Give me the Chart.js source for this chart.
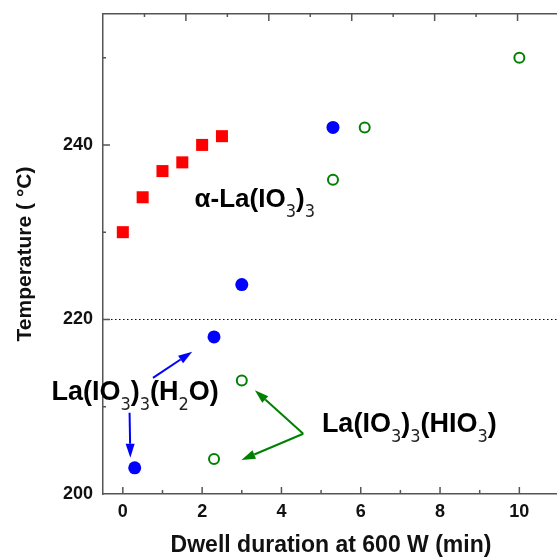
<!DOCTYPE html>
<html>
<head>
<meta charset="utf-8">
<script src="https://cdn.jsdelivr.net/npm/chart.js@4.4.0/dist/chart.umd.min.js"></script>
<style>
  html, body { margin: 0; padding: 0; background: #fff; overflow: hidden; }
  #wrap { width: 570px; height: 559px; }
</style>
</head>
<body>
<div id="wrap"><canvas id="chart" width="570" height="559"></canvas></div>
<script>
// alpha-La(IO3)3 (red squares)
const alphaX = [0, 0.5, 1, 1.5, 2, 2.5];
const alphaY = [230, 234, 237, 238, 240, 241];
// La(IO3)3(H2O) (blue dots)
const hydrateX = [0.3, 2.3, 3, 5.3];
const hydrateY = [203, 218, 224, 242];
// La(IO3)3(HIO3) (green open circles)
const hio3X = [2.3, 3, 5.3, 6.1, 10];
const hio3Y = [204, 213, 236, 242, 250];
// dotted reference line
const refLineX = [-0.5, 11];
const refLineY = [220, 220];

// tick values
const xTicks = [0, 1, 2, 3, 4, 5, 6, 7, 8, 9, 10];
const xTopTicks = [1, 2, 3, 4, 5, 6, 7, 8, 9, 10];
const yTicks = [200, 210, 220, 230, 240, 250];

// labels drawn on the chart, in data coordinates (left x, baseline y)
const noteParts = [
  [['α-La(IO', 0], ['3', 1], [')', 0], ['3', 1]],
  [['La(IO', 0], ['3', 1], [')', 0], ['3', 1], ['(H', 0], ['2', 1], ['O)', 0]],
  [['La(IO', 0], ['3', 1], [')', 0], ['3', 1], ['(HIO', 0], ['3', 1], [')', 0]]
];
const noteX = [1.81, -1.8, 5.02];
const noteY = [232.9, 210.8, 207.1];

// arrows (from -> to), data coordinates
const arrowFrom = [[0.76, 213.3], [0.17, 209.3], [4.55, 206.9], [4.55, 206.9]];
const arrowTo = [[1.75, 216.3], [0.19, 204.15], [3.33, 211.9], [2.99, 203.9]];
const arrowKind = ['blue', 'blue', 'green', 'green'];

const toPts = (xs, ys) => xs.map((x, i) => ({x: x, y: ys[i]}));

const AXIS = '#555555';

// tick marks pointing into the plot
const innerTicks = {
  id: 'innerTicks',
  afterDraw(chart) {
    const {ctx, chartArea: a, scales: {x, x2, y}} = chart;
    ctx.save();
    ctx.strokeStyle = AXIS;
    ctx.lineWidth = 1.5;
    ctx.beginPath();
    xTicks.forEach(v => {
      const px = x.getPixelForValue(v);
      const len = v % 2 === 0 ? 7 : 4;
      ctx.moveTo(px, a.bottom);
      ctx.lineTo(px, a.bottom - len);
    });
    xTopTicks.forEach(v => {
      const px = x2.getPixelForValue(v);
      const len = v % 2 === 0 ? 7 : 3;
      ctx.moveTo(px, a.top);
      ctx.lineTo(px, a.top + len);
    });
    yTicks.forEach(v => {
      if (v === 200) return;
      const py = y.getPixelForValue(v);
      const len = v % 20 === 0 ? 7 : 3;
      ctx.moveTo(a.left, py);
      ctx.lineTo(a.left + len, py);
    });
    ctx.stroke();
    ctx.restore();
  }
};

// formula labels with subscripts, and the arrows
const notes = {
  id: 'notes',
  afterDraw(chart) {
    const {ctx, scales: {x, y}} = chart;
    const sizes = [26, 27, 27];
    ctx.save();
    ctx.textBaseline = 'alphabetic';
    ctx.textAlign = 'left';
    noteParts.forEach((parts, i) => {
      let px = x.getPixelForValue(noteX[i]);
      const py = y.getPixelForValue(noteY[i]);
      parts.forEach(([txt, sub]) => {
        if (sub) {
          ctx.font = '18px "Liberation Sans Narrow", "DejaVu Sans Condensed", sans-serif';
          ctx.fillStyle = '#222';
          ctx.fillText(txt, px, py + 10);
        } else {
          ctx.font = 'bold ' + sizes[i] + 'px "Liberation Sans", Arial, sans-serif';
          ctx.fillStyle = '#000';
          ctx.fillText(txt, px, py);
        }
        px += ctx.measureText(txt).width;
      });
    });

    arrowFrom.forEach((f, i) => {
      const x1 = x.getPixelForValue(f[0]), y1 = y.getPixelForValue(f[1]);
      const x2 = x.getPixelForValue(arrowTo[i][0]), y2 = y.getPixelForValue(arrowTo[i][1]);
      const col = arrowKind[i] === 'blue' ? '#0000ff' : '#008000';
      const ang = Math.atan2(y2 - y1, x2 - x1);
      const hl = 14, hw = 4.5;
      const bx = x2 - hl * Math.cos(ang), by = y2 - hl * Math.sin(ang);
      ctx.strokeStyle = col;
      ctx.fillStyle = col;
      ctx.lineWidth = 2;
      ctx.beginPath();
      ctx.moveTo(x1, y1);
      ctx.lineTo(bx, by);
      ctx.stroke();
      ctx.beginPath();
      ctx.moveTo(x2, y2);
      ctx.lineTo(bx + hw * Math.sin(ang), by - hw * Math.cos(ang));
      ctx.lineTo(bx - hw * Math.sin(ang), by + hw * Math.cos(ang));
      ctx.closePath();
      ctx.fill();
    });
    ctx.restore();
  }
};

const tickFont = {family: '"Liberation Sans", Arial, sans-serif', size: 18, weight: 'bold'};
const xTitleFont = {family: '"Liberation Sans", Arial, sans-serif', size: 23, weight: 'bold'};
const yTitleFont = {family: '"Liberation Sans", Arial, sans-serif', size: 21, weight: 'bold'};

new Chart(document.getElementById('chart').getContext('2d'), {
  type: 'scatter',
  data: {
    datasets: [
      {
        label: 'ref',
        type: 'line',
        data: toPts(refLineX, refLineY),
        borderColor: '#000',
        borderWidth: 1,
        borderDash: [1.5, 2.5],
        pointRadius: 0,
        fill: false
      },
      {
        label: 'α-La(IO3)3',
        data: toPts(alphaX, alphaY),
        pointStyle: 'rect',
        pointRadius: 8.5,
        backgroundColor: '#ff0000',
        borderWidth: 0
      },
      {
        label: 'La(IO3)3(H2O)',
        data: toPts(hydrateX, hydrateY),
        pointStyle: 'circle',
        pointRadius: 6.5,
        backgroundColor: '#0000ff',
        borderWidth: 0
      },
      {
        label: 'La(IO3)3(HIO3)',
        data: toPts(hio3X, hio3Y),
        pointStyle: 'circle',
        pointRadius: 5,
        backgroundColor: '#ffffff',
        borderColor: '#008000',
        borderWidth: 2
      }
    ]
  },
  options: {
    responsive: false,
    animation: false,
    devicePixelRatio: 1,
    layout: { padding: { left: 0, right: 11, top: 0, bottom: 0 } },
    plugins: {
      legend: { display: false },
      tooltip: { enabled: false }
    },
    scales: {
      x: {
        type: 'linear',
        position: 'bottom',
        min: -0.5,
        max: 11,
        grid: { display: false, drawTicks: false },
        border: { color: AXIS, width: 1.5 },
        afterBuildTicks: s => { s.ticks = xTicks.map(v => ({value: v})); },
        ticks: {
          autoSkip: false,
          maxRotation: 0,
          padding: 7,
          color: '#111',
          font: tickFont,
          callback: v => v % 2 === 0 ? String(v) : ''
        },
        title: {
          display: true,
          text: 'Dwell duration at 600 W (min)',
          color: '#111',
          font: xTitleFont,
          padding: { top: 0, bottom: 0 }
        },
        afterFit: s => { s.height = 65; s.paddingLeft = 0; s.paddingRight = 0; }
      },
      x2: {
        type: 'linear',
        position: 'top',
        min: 0,
        max: 11,
        grid: { display: false, drawTicks: false },
        border: { color: AXIS, width: 1.5 },
        afterBuildTicks: s => { s.ticks = xTopTicks.map(v => ({value: v})); },
        ticks: { display: false },
        afterFit: s => { s.height = 14; s.paddingLeft = 0; s.paddingRight = 0; }
      },
      y: {
        type: 'linear',
        position: 'left',
        min: 200,
        max: 255,
        grid: { display: false, drawTicks: false },
        border: { color: AXIS, width: 1.5 },
        afterBuildTicks: s => { s.ticks = yTicks.map(v => ({value: v})); },
        ticks: {
          autoSkip: false,
          padding: 10,
          color: '#111',
          font: tickFont,
          callback: v => v % 20 === 0 ? String(v) : ''
        },
        title: {
          display: true,
          text: 'Temperature ( °C)',
          color: '#111',
          font: yTitleFont,
          padding: { top: 13, bottom: 0 }
        },
        afterFit: s => { s.width = 103; s.paddingTop = 0; s.paddingBottom = 0; }
      }
    }
  },
  plugins: [innerTicks, notes]
});
</script>
</body>
</html>
